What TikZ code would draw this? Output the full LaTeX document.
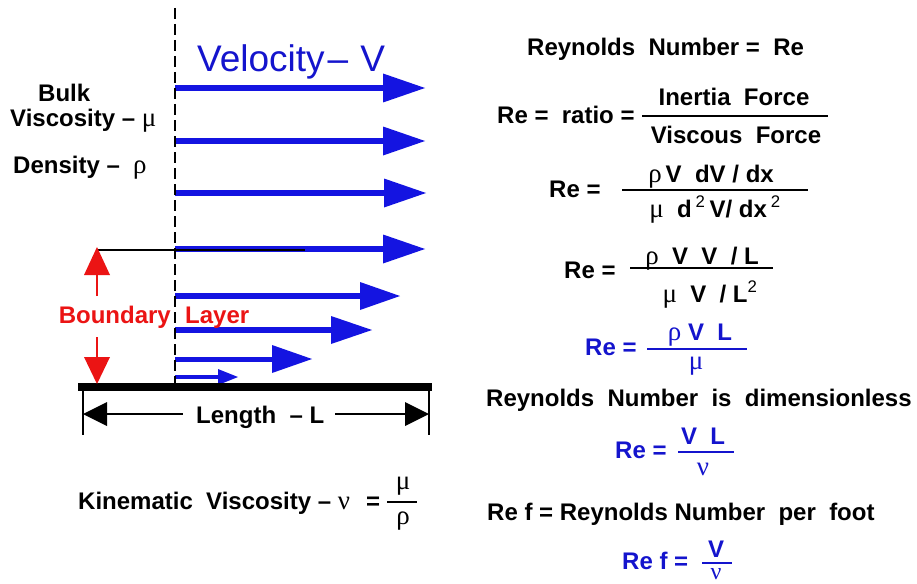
\documentclass[tikz,border=0pt]{standalone}
\usepackage{fontspec}
\setmainfont{Liberation Sans}
\newfontfamily\grfont{Liberation Serif}
\newcommand{\gk}[1]{{\grfont\mdseries\fontsize{27}{30}\selectfont #1}}
\newcommand{\gks}[1]{{\grfont\mdseries\fontsize{24}{26}\selectfont #1}}
\definecolor{vblue}{RGB}{20,20,225}
\definecolor{tblue}{RGB}{20,20,205}
\definecolor{vred}{RGB}{235,20,20}
\newcommand{\flowarrow}[6]{% name, y, tipx, headlen, halfwidth, shaftwidth
  \coordinate (#1) at (#3,#2);
  \fill[vblue] (175,{#2-#6/2}) rectangle ({#3-#4+1},{#2+#6/2});
  \fill[vblue] (#1) -- ++(-#4,-#5) -- ++(0,{2*#5}) -- cycle;}
\begin{document}
\begin{tikzpicture}[x=1pt,y=-1pt,
  txt/.style={inner sep=0pt, font=\fontsize{24}{28}\selectfont\bfseries},
  btxt/.style={txt, text=tblue},
  rtxt/.style={txt, text=vred},
  fbar/.style={line width=2.2pt},
  ]
\useasboundingbox (0,0) rectangle (917,583);
\fill[white] (0,0) rectangle (917,583);

% flow arrows
\flowarrow{a1}{88}{425}{42}{14.5}{5.5}
\flowarrow{a2}{141}{425}{42}{14.5}{5.5}
\flowarrow{a3}{193}{426}{42}{14.5}{5.5}
\flowarrow{a4}{249}{425}{42}{14.5}{5.5}
\flowarrow{a5}{296}{400}{40}{14}{5.5}
\flowarrow{a6}{330}{372}{41}{14}{5.5}
\flowarrow{a7}{359}{312}{40}{14}{5}
\flowarrow{a8}{377}{238}{20}{8}{4}

% dashed line
\coordinate (dtop) at (175,8);
\coordinate (dbot) at (175,383);
\draw[line width=2pt, dash pattern=on 11pt off 5pt] (dtop) -- (dbot);

% boundary layer edge line
\coordinate (bl1) at (97,250);
\coordinate (bl2) at (305,250);
\draw[line width=1.5pt] (bl1) -- (bl2);

% plate
\fill (78,383) rectangle (432,391);

% velocity label
\node[anchor=base west, inner sep=0pt, text=tblue, font=\fontsize{37}{40}\selectfont] (vel) at (197,72) {Velocity\hspace{3pt}–\hspace{12pt}V};

% left labels
\node[txt, anchor=base west] (bulk) at (38,102) {Bulk};
\node[txt, anchor=base west] (visc) at (10,126) {Viscosity – \gk{μ}};
\node[txt, anchor=base west] (dens) at (13,173) {Density – \ \gk{ρ}};

% boundary layer arrows and label
\node[rtxt, anchor=base east] (bnd) at (171,323) {Boundary};
\node[rtxt, anchor=base west] (lay) at (185,323) {Layer};
\coordinate (upbot) at (97,296);
\coordinate (uptip) at (97,247);
\draw[vred, line width=2.5pt] (upbot) -- (97,270);
\fill[vred] (uptip) -- ++(-13,28) -- ++(26,0) -- cycle;
\coordinate (dntop) at (97,337);
\coordinate (dntip) at (97,384);
\draw[vred, line width=2.5pt] (dntop) -- (97,360);
\fill[vred] (dntip) -- ++(-13,-27) -- ++(26,0) -- cycle;

% length dimension
\coordinate (t1a) at (83,391);
\coordinate (t1b) at (83,435);
\coordinate (t2a) at (429,391);
\coordinate (t2b) at (429,435);
\draw[line width=2pt] (t1a) -- (t1b);
\draw[line width=2pt] (t2a) -- (t2b);
\node[txt, anchor=base west] (len) at (196,423) {Length\ \ – L};
\coordinate (l1) at (83,414);
\coordinate (l2) at (429,414);
\draw[line width=2pt] (103,414) -- (183,414);
\draw[line width=2pt] (335,414) -- (409,414);
\fill (l1) -- ++(24,-12) -- ++(0,24) -- cycle;
\fill (l2) -- ++(-24,-12) -- ++(0,24) -- cycle;

% kinematic viscosity
\node[txt, anchor=base west] (kin) at (78,509) {Kinematic\ \ Viscosity – \gk{ν}};
\node[txt, anchor=base west] (keq) at (366,509) {=};
\coordinate (kb1) at (387,502);
\coordinate (kb2) at (417,502);
\draw[fbar] (kb1) -- (kb2);
\node[txt, anchor=center] (kmu) at (403,486) {\gk{μ}};
\node[txt, anchor=center] (krho) at (403,521) {\gk{ρ}};

% right side
\node[txt, anchor=base west] (r1) at (527,56) {Reynolds\ \ Number =\ \ Re};

\node[txt, anchor=base west] (r2) at (497,123) {Re =\ \ ratio =};
\coordinate (f1a) at (642,116);
\coordinate (f1b) at (828,116);
\draw[fbar] (f1a) -- (f1b);
\node[txt, anchor=base] (f1n) at (734,106) {Inertia\ \ Force};
\node[txt, anchor=base] (f1d) at (736,143) {Viscous\ \ Force};

\node[txt, anchor=base west] (r3) at (549,197) {Re =};
\coordinate (f2a) at (622,190);
\coordinate (f2b) at (808,190);
\draw[fbar] (f2a) -- (f2b);
\node[txt, anchor=base] (f2n) at (711,182) {\gk{ρ}\,V\ \ dV / dx};
\node[txt, anchor=base] (f2d) at (715,217) {\gk{μ}\ \ d\,\textsuperscript{\mdseries 2}\,V/ dx\,\textsuperscript{\mdseries 2}};

\node[txt, anchor=base west] (r4) at (564,278) {Re =};
\coordinate (f3a) at (630,268);
\coordinate (f3b) at (773,268);
\draw[fbar] (f3a) -- (f3b);
\node[txt, anchor=base] (f3n) at (702,264) {\gk{ρ}\ \ V\ \ V\ \ / L};
\node[txt, anchor=base] (f3d) at (710,302) {\gk{μ}\ \ V\ \ / L\textsuperscript{\mdseries 2}};

\node[btxt, anchor=base west] (r5) at (585,355) {Re =};
\coordinate (f4a) at (647,349);
\coordinate (f4b) at (747,349);
\draw[fbar, tblue] (f4a) -- (f4b);
\node[btxt, anchor=base] (f4n) at (700,340) {\gk{ρ}\ V\ \ L};
\node[btxt, anchor=center] (f4d) at (696,366) {\gk{μ}};

\node[txt, anchor=base west] (r6) at (486,406) {Reynolds\ \ Number\ \ is\ \ dimensionless};

\node[btxt, anchor=base west] (r7) at (615,458) {Re =};
\coordinate (f5a) at (678,452);
\coordinate (f5b) at (734,452);
\draw[fbar, tblue] (f5a) -- (f5b);
\node[btxt, anchor=base] (f5n) at (703,444) {V\ \ L};
\node[btxt, anchor=center] (f5d) at (703,469) {\gk{ν}};

\node[txt, anchor=base west] (r8) at (487,520) {Re f = Reynolds Number\ \ per\ \ foot};

\node[btxt, anchor=base west] (r9) at (622,569) {Re f =};
\coordinate (f6a) at (702,563);
\coordinate (f6b) at (732,563);
\draw[fbar, tblue] (f6a) -- (f6b);
\node[btxt, anchor=base] (f6n) at (716,557) {V};
\node[btxt, anchor=base] (f6d) at (716,579) {\gks{ν}};
\end{tikzpicture}
\end{document}
